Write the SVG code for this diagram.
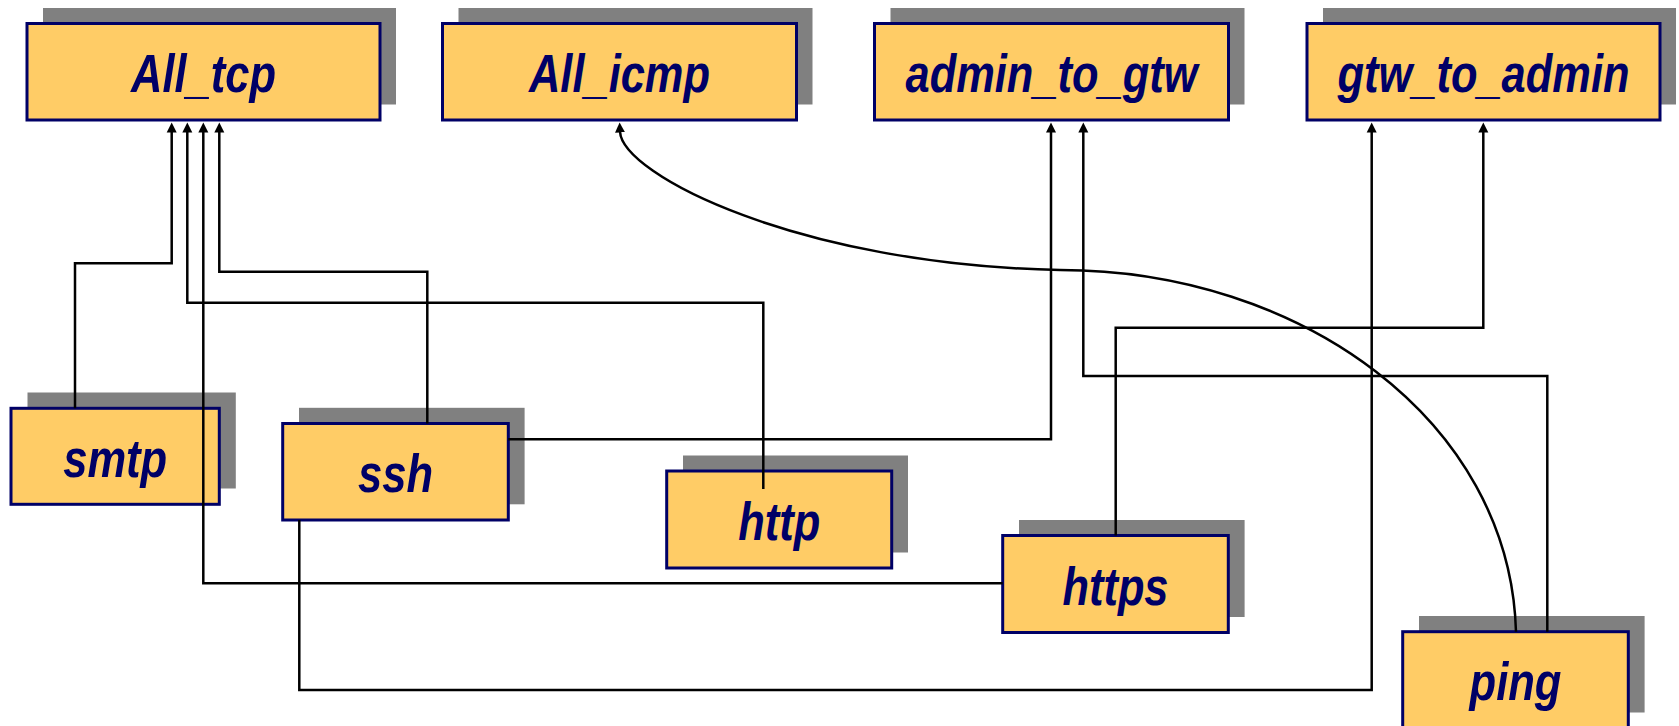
<svg xmlns="http://www.w3.org/2000/svg" width="1679" height="726" viewBox="0 0 1679 726">
<style>
.sh{fill:#808080}
.bx{fill:#FFCC66;stroke:#000066;stroke-width:3}
.lb{font-family:"Liberation Sans Narrow","Liberation Sans",Arial,sans-serif;font-weight:bold;font-style:italic;font-size:53px;fill:#000066;text-anchor:middle}
.cn{fill:none;stroke:#000;stroke-width:2.5;marker-end:url(#ah)}
</style>
<defs>
<marker id="ah" markerUnits="userSpaceOnUse" markerWidth="11" markerHeight="11" refX="1" refY="5" orient="auto" viewBox="0 0 11 10">
<path d="M0,0 L10,5 L0,10 z" fill="#000"/>
</marker>
</defs>
<rect width="1679" height="726" fill="#fff"/>
<g id="nodes">
<g id="All_tcp"><rect class="sh" x="43" y="8" width="353" height="96.5"/><rect class="bx" x="27" y="23.5" width="353" height="96.5"/><text class="lb" x="203.5" y="92" textLength="145" lengthAdjust="spacingAndGlyphs">All_tcp</text></g>
<g id="All_icmp"><rect class="sh" x="458.5" y="8" width="354" height="96.5"/><rect class="bx" x="442.5" y="23.5" width="354" height="96.5"/><text class="lb" x="619.5" y="92" textLength="181" lengthAdjust="spacingAndGlyphs">All_icmp</text></g>
<g id="admin_to_gtw"><rect class="sh" x="890.5" y="8" width="354" height="96.5"/><rect class="bx" x="874.5" y="23.5" width="354" height="96.5"/><text class="lb" x="1051.5" y="92" textLength="292" lengthAdjust="spacingAndGlyphs">admin_to_gtw</text></g>
<g id="gtw_to_admin"><rect class="sh" x="1323" y="8" width="353" height="96.5"/><rect class="bx" x="1307" y="23.5" width="353" height="96.5"/><text class="lb" x="1483.5" y="92" textLength="292" lengthAdjust="spacingAndGlyphs">gtw_to_admin</text></g>
<g id="smtp"><rect class="sh" x="27.5" y="392.5" width="208.3" height="96"/><rect class="bx" x="11" y="408.3" width="208.3" height="96"/><text class="lb" x="115.2" y="476.8" textLength="104" lengthAdjust="spacingAndGlyphs">smtp</text></g>
<g id="ssh"><rect class="sh" x="299" y="407.8" width="225.6" height="96.5"/><rect class="bx" x="282.7" y="423.5" width="225.6" height="96.5"/><text class="lb" x="395.5" y="492" textLength="75" lengthAdjust="spacingAndGlyphs">ssh</text></g>
<g id="http"><rect class="sh" x="683" y="455.5" width="225" height="97"/><rect class="bx" x="666.7" y="471" width="225" height="97"/><text class="lb" x="779.2" y="540" textLength="82" lengthAdjust="spacingAndGlyphs">http</text></g>
<g id="https"><rect class="sh" x="1019" y="520" width="225.6" height="97"/><rect class="bx" x="1002.7" y="535.5" width="225.6" height="97"/><text class="lb" x="1115.5" y="604.5" textLength="106" lengthAdjust="spacingAndGlyphs">https</text></g>
<g id="ping"><rect class="sh" x="1419" y="616" width="225.6" height="96.5"/><rect class="bx" x="1402.7" y="631.7" width="225.6" height="96.5"/><text class="lb" x="1515.5" y="699.5" textLength="92" lengthAdjust="spacingAndGlyphs">ping</text></g>
</g>
<g id="connectors">
<path class="cn" d="M75,408.3 V263.3 H171.7 V131.5"/>
<path class="cn" d="M763.3,489 V302.7 H187.3 V131.5"/>
<path class="cn" d="M1002.7,583.3 H203.3 V131.5"/>
<path class="cn" d="M427.3,423.5 V271.7 H219.3 V131.5"/>
<path class="cn" d="M508.3,439.3 H1051 V131.5"/>
<path class="cn" d="M1547.3,631.7 V376 H1083.3 V131.5"/>
<path class="cn" d="M1115.7,535.5 V327.7 H1483.3 V131.5"/>
<path class="cn" d="M299.3,520 V690 H1371.7 V131.5"/>
<path class="cn" d="M1516,631.7 C1510,420 1300,270 1060,270 C800,265 622,175 620,131.5"/>
</g>
</svg>
